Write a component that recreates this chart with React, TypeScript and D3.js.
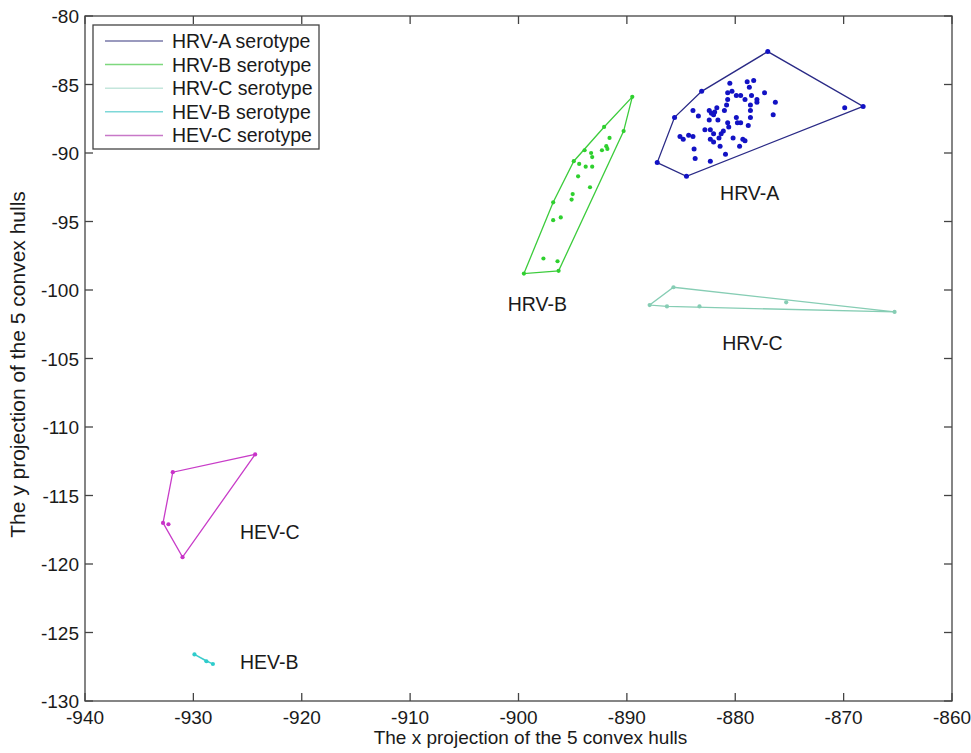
import React from 'react';
import * as d3 from 'd3';

type Pt = [number, number];

// points (x projection, y projection)
const hrvA: Pt[] = [
  [-877.0, -82.6], [-868.2, -86.6], [-884.5, -91.7], [-887.2, -90.7], [-885.6, -87.4], [-883.1, -85.5],
  [-880.5, -84.9], [-878.9, -84.8], [-878.3, -84.7], [-878.7, -85.2], [-880.7, -85.6], [-880.3, -85.5],
  [-879.9, -85.8], [-879.5, -85.8], [-879.1, -86.1], [-878.5, -85.8], [-878.0, -86.1], [-877.3, -85.6],
  [-876.3, -86.3], [-876.5, -87.2], [-878.0, -86.3], [-878.6, -86.5], [-880.7, -86.1], [-880.8, -86.5],
  [-883.9, -86.9], [-883.4, -87.3], [-882.4, -86.9], [-882.2, -87.1], [-881.9, -87.0], [-881.7, -86.7],
  [-882.0, -87.2], [-881.6, -87.6], [-882.4, -87.6], [-881.0, -86.9], [-879.9, -87.4], [-879.8, -87.8],
  [-879.5, -87.8], [-878.6, -86.9], [-878.6, -87.4], [-878.8, -88.0], [-880.6, -88.1], [-880.7, -87.8],
  [-882.8, -88.3], [-882.3, -88.3], [-882.0, -88.6], [-882.3, -89.0], [-881.3, -88.6], [-881.5, -88.9],
  [-881.1, -88.4], [-880.2, -88.9], [-879.3, -89.0], [-879.1, -89.1], [-885.1, -88.8], [-884.8, -89.0],
  [-884.3, -88.7], [-883.9, -88.8], [-882.0, -89.2], [-881.4, -89.5], [-879.6, -89.5], [-883.8, -89.7],
  [-883.7, -90.4], [-882.3, -90.6], [-880.9, -90.1], [-869.9, -86.7],
];
const hrvB: Pt[] = [
  [-889.5, -85.9], [-890.3, -88.4], [-896.3, -98.6], [-899.5, -98.8], [-896.8, -93.6], [-894.9, -90.6],
  [-893.9, -89.8], [-892.1, -88.1], [-891.6, -88.9], [-891.9, -89.5], [-891.8, -89.7], [-892.3, -89.8],
  [-893.3, -90.0], [-893.2, -90.3], [-894.4, -90.8], [-893.8, -91.0], [-893.2, -91.0], [-894.5, -91.7],
  [-893.4, -92.5], [-895.0, -93.0], [-895.1, -93.4], [-896.1, -94.7], [-896.8, -94.9], [-897.7, -97.7],
  [-896.4, -97.9],
];
const hrvC: Pt[] = [
  [-887.9, -101.1], [-885.7, -99.8], [-865.3, -101.6], [-875.3, -100.9], [-886.3, -101.2], [-883.3, -101.2],
];
const hevB: Pt[] = [[-929.9, -126.6], [-928.8, -127.1], [-928.2, -127.3]];
const hevC: Pt[] = [[-924.3, -112.0], [-931.9, -113.3], [-932.8, -117.0], [-931.0, -119.5], [-932.3, -117.1]];

const groupNames = ['HRV-A', 'HRV-B', 'HRV-C', 'HEV-B', 'HEV-C'];
const groupPoints = [hrvA, hrvB, hrvC, hevB, hevC];
const lineColors = ['#2a2a86', '#3ccc3c', '#86cdb4', '#3ccccc', '#c83cc8'];
const dotColors = ['#1212c4', '#2ed02e', '#86cdb4', '#2ecccc', '#c832c8'];
const legendColors = ['#7878a8', '#7ed87e', '#c4e6dc', '#7ed8d8', '#c878c8'];
// label anchors (data coords)
const labelPos: Pt[] = [[-881.4, -93.4], [-901.0, -101.5], [-881.2, -104.4], [-925.7, -127.7], [-925.7, -118.2]];

const xTicks = d3.range(-940, -859, 10);
const yTicks = d3.range(-130, -79, 5);

const W = 971, H = 753;
const left = 85, right = 952, top = 16, bottom = 701;
const font = 'Arial, "Liberation Sans", Helvetica, sans-serif';

export default function App() {
  const x = d3.scaleLinear().domain([-940, -860]).range([left, right]);
  const y = d3.scaleLinear().domain([-130, -80]).range([bottom, top]);
  const line = d3.line<Pt>().x(d => x(d[0])).y(d => y(d[1])).curve(d3.curveLinearClosed);
  const tk = 8;

  return (
    <svg width={W} height={H} style={{ position: 'absolute', left: 0, top: 0, background: '#fff' }}
      fontFamily={font}>
      <rect x={0} y={0} width={W} height={H} fill="#fff" />

      {groupPoints.map((pts, i) => {
        const hull = d3.polygonHull(pts) as Pt[];
        return (
          <g key={groupNames[i]}>
            <path d={line(hull) || ''} fill="none" stroke={lineColors[i]} strokeWidth={1.3} />
            {pts.map((p, j) => (
              <circle key={j} cx={x(p[0])} cy={y(p[1])} r={i === 0 ? 2.5 : 2.1} fill={dotColors[i]} />
            ))}
            <text x={x(labelPos[i][0])} y={y(labelPos[i][1])} fontSize={19.5} fill="#1a1a1a">{groupNames[i]}</text>
          </g>
        );
      })}

      {/* axes box with inward ticks */}
      <g stroke="#444" strokeWidth={1.3} fill="none">
        <rect x={left} y={top} width={right - left} height={bottom - top} />
        {xTicks.map(t => (
          <g key={t}>
            <line x1={x(t)} x2={x(t)} y1={bottom} y2={bottom - tk} />
            <line x1={x(t)} x2={x(t)} y1={top} y2={top + tk} />
          </g>
        ))}
        {yTicks.map(t => (
          <g key={t}>
            <line x1={left} x2={left + tk} y1={y(t)} y2={y(t)} />
            <line x1={right} x2={right - tk} y1={y(t)} y2={y(t)} />
          </g>
        ))}
      </g>
      <g fontSize={19} fill="#1a1a1a">
        {xTicks.map(t => (
          <text key={t} x={x(t)} y={bottom + 23} textAnchor="middle">{t}</text>
        ))}
        {yTicks.map(t => (
          <text key={t} x={left - 6} y={y(t) + 7} textAnchor="end">{t}</text>
        ))}
      </g>
      <text x={(left + right) / 2 + 12} y={744} textAnchor="middle" fontSize={19} fill="#1a1a1a">
        The x projection of the 5 convex hulls
      </text>
      <text transform={`translate(25,${(top + bottom) / 2 + 6}) rotate(-90)`} textAnchor="middle" fontSize={21} fill="#1a1a1a">
        The y projection of the 5 convex hulls
      </text>

      {/* legend */}
      <g>
        <rect x={93} y={25} width={226} height={124} fill="#fff" stroke="#444" strokeWidth={1.3} />
        {groupNames.map((n, i) => {
          const ly = 41 + i * 23.6;
          return (
            <g key={n}>
              <line x1={105} x2={163} y1={ly} y2={ly} stroke={legendColors[i]} strokeWidth={1.5} />
              <text x={172} y={ly + 7} fontSize={19.5} fill="#1a1a1a">{n} serotype</text>
            </g>
          );
        })}
      </g>
    </svg>
  );
}
